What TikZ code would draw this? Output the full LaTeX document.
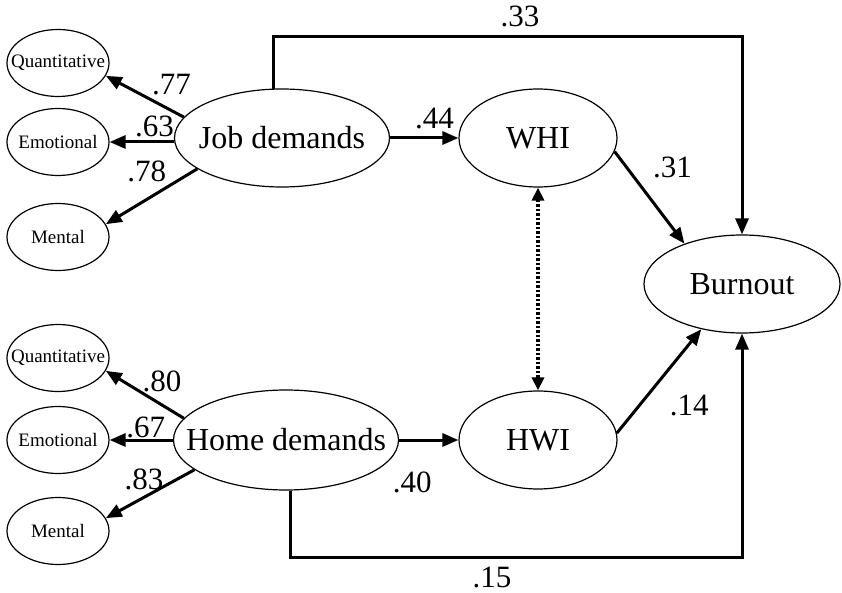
\documentclass[tikz,border=0pt]{standalone}
\usepackage{fontspec}
\setmainfont{Liberation Serif}
\usetikzlibrary{shapes.geometric,arrows.meta}

\begin{document}
\begin{tikzpicture}[x=1pt, y=-1pt, line width=3pt,
                    latent/.style={ellipse, draw, line width=1.2pt, inner sep=0pt, font=\fontsize{32}{38}\selectfont},
                    indicator/.style={ellipse, draw, line width=1.2pt, inner sep=0pt, minimum width=102pt, minimum height=67pt, font=\fontsize{19}{23}\selectfont},
                    coef/.style={inner sep=1pt, font=\fontsize{31}{37}\selectfont},
                    path arrow/.style={-{Triangle[length=16pt, width=13pt]}}]
  \useasboundingbox (0,0) rectangle (842,593);

  % measurement model
  \node[indicator] (q1) at (58, 63) {\makebox[0pt]{Quantitative}};
  \node[indicator] (emo1) at (58, 142) {\makebox[0pt]{Emotional}};
  \node[indicator] (m1) at (58, 237) {\makebox[0pt]{Mental}};
  \node[indicator] (q2) at (58, 358) {\makebox[0pt]{Quantitative}};
  \node[indicator] (emo2) at (58, 440) {\makebox[0pt]{Emotional}};
  \node[indicator] (m2) at (58, 531) {\makebox[0pt]{Mental}};

  % latent variables
  \node[latent, minimum width=215pt, minimum height=98pt] (jd) at (282, 138) {\makebox[0pt]{Job demands}};
  \node[latent, minimum width=225pt, minimum height=100pt] (hd) at (286, 440) {\makebox[0pt]{Home demands}};
  \node[latent, minimum width=158pt, minimum height=98pt] (whi) at (538, 138) {\makebox[0pt]{WHI}};
  \node[latent, minimum width=158pt, minimum height=98pt] (hwi) at (538, 440) {\makebox[0pt]{HWI}};
  \node[latent, minimum width=196pt, minimum height=98pt] (burnout) at (742, 284) {\makebox[0pt]{Burnout}};

  \coordinate (top) at (520, 37);
  \coordinate (bot) at (492, 557);

  \path[path arrow]
  (jd.168) edge node [coef, pos=0.16, yshift=26pt] {.77} (q1.-15)
  (jd.west |- emo1) edge node [coef, pos=0.3, yshift=16pt] {.63} (emo1)
  (jd.200) edge node [coef, pos=0.3, xshift=-23pt, yshift=14pt] {.78} (m1.15)
  (hd.168) edge node [coef, pos=0.28, yshift=24pt] {.80} (q2.-15)
  (hd.west |- emo2) edge node [coef, pos=0.43, yshift=13pt] {.67} (emo2)
  (hd.198) edge node [coef, pos=0.3, xshift=-24pt, yshift=5pt] {.83} (m2.15)
  (jd.east) edge node [coef, pos=0.65, yshift=19pt] {.44} (whi.west)
  (hd.east) edge node [coef, pos=0.22, yshift=-42pt] {.40} (hwi.west)
  (whi.-10) edge node [coef, pos=0.4, xshift=30pt, yshift=21pt] {.31} (burnout.145)
  (hwi.5) edge node [coef, pos=0.3, xshift=47pt, yshift=-4pt] {.14} (burnout.228);

  \draw[path arrow] (jd.100) |- (top) node[coef, above=8pt] {.33} -| (burnout.north);
  \draw[path arrow] (hd.-85) |- (bot) node[coef, below=8pt] {.15} -| (burnout.south);

  \draw[{Triangle[length=13pt, width=12pt]}-{Triangle[length=13pt, width=12pt]}, line width=3.5pt, dash pattern=on 2.5pt off 2pt] (whi) -- (hwi);

\end{tikzpicture}
\end{document}
